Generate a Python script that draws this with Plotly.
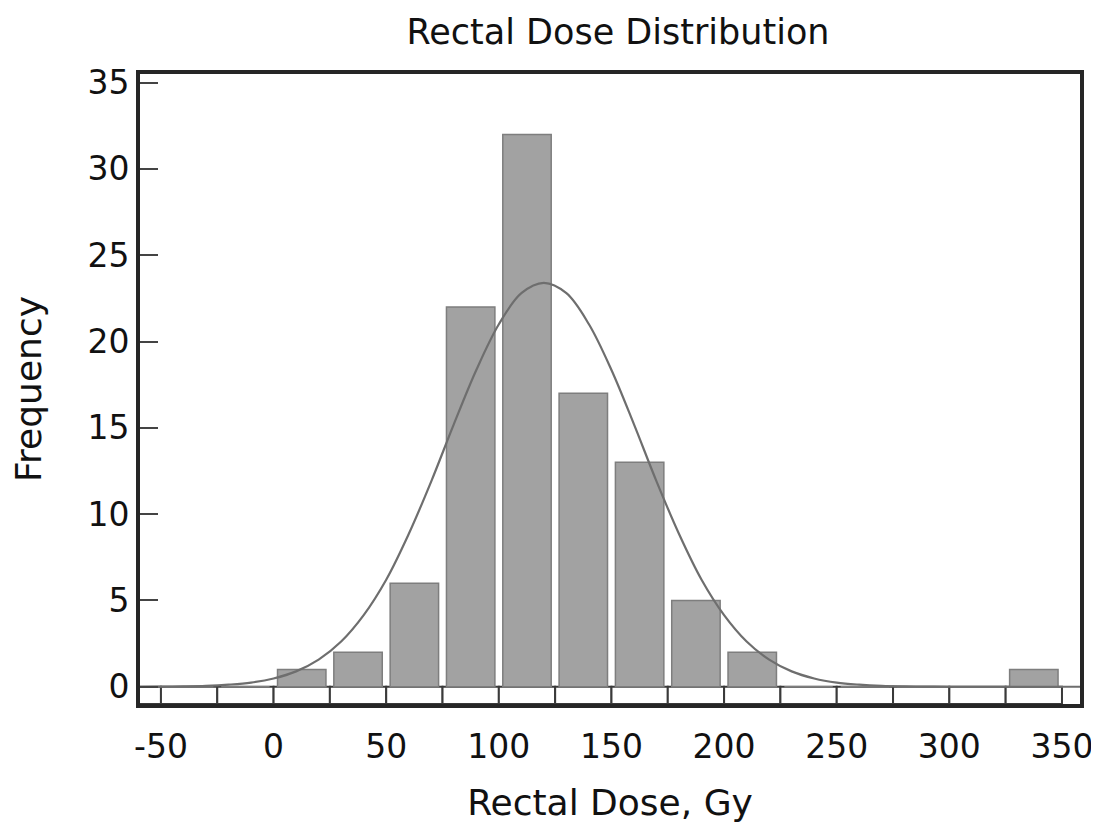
import plotly.graph_objects as go

# ---- data ----
bin_edges_left = [-75, -50, -25, 0, 25, 50, 75, 100, 125, 150, 175, 200, 225, 250, 275, 300, 325]
bin_width = 25
hist_bins = [-50, -25, 0, 25, 50, 75, 100, 125, 150, 175, 200, 225, 250, 275, 300, 325]
frequency = [0, 0, 1, 2, 6, 22, 32, 17, 13, 5, 2, 0, 0, 0, 0, 1]

curve_x = [-60, -50, -40, -30, -20, -10, 0, 10, 20, 30, 40, 50, 60, 70, 80, 90, 100, 110,
           120, 130, 140, 150, 160, 170, 180, 190, 200, 210, 220, 230, 240, 250, 260, 270,
           280, 290, 300, 320, 340, 360]
curve_y = [0.0, 0.01, 0.02, 0.05, 0.12, 0.24, 0.48, 0.89, 1.57, 2.62, 4.15, 6.2, 8.85, 11.9,
           15.2, 18.35, 21.0, 22.8, 23.4, 22.8, 21.0, 18.35, 15.2, 11.9, 8.85, 6.2, 4.15, 2.62,
           1.57, 0.89, 0.48, 0.24, 0.12, 0.05, 0.02, 0.01, 0.0, 0.0, 0.0, 0.0]

x_ticks = [-50, 0, 50, 100, 150, 200, 250, 300, 350]
x_tick_labels = ["-50", "0", "50", "100", "150", "200", "250", "300", "350"]
y_ticks = [0, 5, 10, 15, 20, 25, 30, 35]

FONT = "DejaVu Sans"
INK = "#262626"

fig = go.Figure()

# strip of white bin boxes below zero
fig.add_trace(go.Bar(
    x=[e + bin_width / 2 for e in bin_edges_left],
    y=[1] * len(bin_edges_left),
    base=-1,
    width=bin_width,
    marker=dict(color="white", line=dict(color="#3a3a3a", width=2)),
    hoverinfo="skip", showlegend=False,
))

# histogram bars
fig.add_trace(go.Bar(
    x=[e + bin_width / 2 for e in hist_bins],
    y=frequency,
    width=bin_width * 0.86,
    marker=dict(color="#a2a2a2", line=dict(color="#7e7e7e", width=1.5)),
    showlegend=False,
))

# fitted normal curve
fig.add_trace(go.Scatter(
    x=curve_x, y=curve_y, mode="lines",
    line=dict(color="#6e6e6e", width=2.2, shape="spline"),
    showlegend=False,
))

fig.update_layout(
    width=1099, height=825,
    margin=dict(l=132, r=27, t=66, b=129),
    paper_bgcolor="white", plot_bgcolor="white",
    barmode="overlay",
    font=dict(family=FONT, color="#111111", size=33),
    title=dict(text="Rectal Dose Distribution", x=610 / 1099, xanchor="center",
               y=1 - 24 / 825, yanchor="middle", xref="container", yref="container",
               font=dict(family=FONT, size=35, color="#111111")),
    xaxis=dict(
        range=[-59.3, 358], tickvals=x_ticks, ticktext=x_tick_labels, ticks="",
        ticklabelstandoff=10,
        showline=True, mirror=True, linewidth=4, linecolor=INK,
        showgrid=False, zeroline=False,
        tickfont=dict(family=FONT, size=33),
        title=dict(text="Rectal Dose, Gy", font=dict(family=FONT, size=36), standoff=26),
    ),
    yaxis=dict(
        range=[-1, 35.5], tickvals=y_ticks, ticks="inside", ticklen=18, tickwidth=2,
        tickcolor="#444444",
        showline=True, mirror=True, linewidth=4, linecolor=INK,
        showgrid=False, zeroline=False,
        tickfont=dict(family=FONT, size=33),
        title=dict(text="Frequency", font=dict(family=FONT, size=36), standoff=38),
    ),
)

fig.write_html("out.html")
